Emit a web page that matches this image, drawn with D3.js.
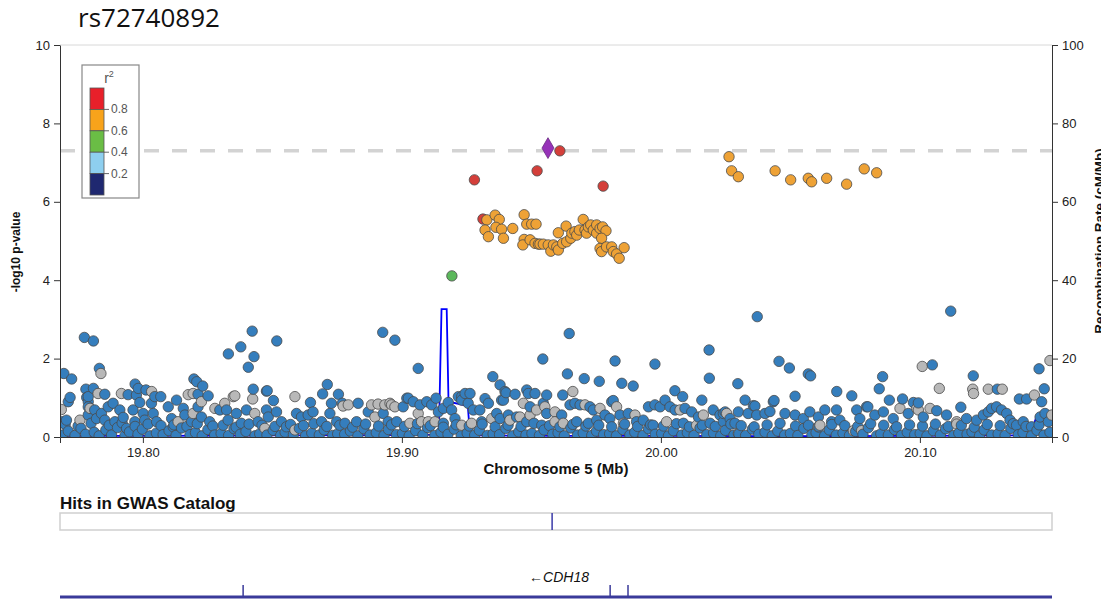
<!DOCTYPE html>
<html>
<head>
<meta charset="utf-8">
<script src="https://cdn.jsdelivr.net/npm/d3@7/dist/d3.min.js"></script>
<style>
  body { margin: 0; background: #fff; }
  svg { display: block; font-family: "Liberation Sans", Arial, sans-serif; }
</style>
</head>
<body>
<svg width="1101" height="615"></svg>
<script>
// ---- data (position in Mb, -log10 p) ----
const xTicks = [19.80, 19.90, 20.00, 20.10];
const yTicks = [0, 2, 4, 6, 8, 10];
const recombTicks = [0, 20, 40, 60, 80, 100];
const legendBreaks = [0.8, 0.6, 0.4, 0.2];
const legendColors = ["#e8202a", "#f8a31b", "#6abd45", "#8ecfef", "#1f2870"];

const indexSnp = [[19.9564, 7.37]];
const redSnps = [[19.9313, 5.56], [19.9280, 6.56], [19.9522, 6.79], [19.9610, 7.30], [19.9777, 6.40]];
const greenSnps = [[19.9193, 4.11]];
const orangeSnps = [
  [19.9328,5.54],[19.9360,5.66],[19.9376,5.55],[19.9321,5.28],[19.9334,5.11],[19.9363,5.35],[19.9385,5.30],
  [19.9392,5.07],[19.9428,5.32],[19.9472,5.67],[19.9482,5.43],[19.9501,5.43],[19.9518,5.43],[19.9472,5.04],
  [19.9467,4.90],[19.9495,5.03],[19.9514,4.94],[19.9527,4.92],[19.9533,4.92],[19.9546,4.92],[19.9565,4.90],
  [19.9575,4.74],[19.9585,4.90],[19.9598,4.85],[19.9604,4.77],[19.9604,5.21],[19.9634,5.38],[19.9621,4.94],
  [19.9636,4.98],[19.9652,5.07],[19.9656,5.20],[19.9668,5.24],[19.9675,5.15],[19.9685,5.28],[19.9700,5.55],
  [19.9707,5.28],[19.9713,5.20],[19.9720,5.36],[19.9729,5.41],[19.9739,5.28],[19.9752,5.20],[19.9752,5.41],
  [19.9765,5.32],[19.9775,5.36],[19.9788,5.26],[19.9771,5.07],[19.9765,4.81],[19.9771,4.73],[19.9790,4.85],
  [19.9810,4.85],[19.9816,4.73],[19.9829,4.67],[19.9839,4.56],[19.9858,4.83],
  [20.0263,7.15],[20.0273,6.79],[20.0299,6.64],[20.0441,6.79],[20.0501,6.56],[20.0569,6.60],[20.0582,6.51],
  [20.0640,6.60],[20.0717,6.45],[20.0785,6.84],[20.0833,6.74]
];

const greySnps = [
  [19.7685,0.70],[19.7757,0.43],[19.7796,0.73],[19.7827,1.11],[19.7838,1.62],[19.7917,1.11],[19.8034,1.16],
  [19.8136,0.39],[19.8175,1.08],[19.8194,1.11],[19.8194,0.60],[19.8226,0.90],[19.8278,0.73],[19.8316,0.86],
  [19.8349,1.03],[19.8355,1.05],[19.8424,0.97],[19.8432,0.60],[19.8471,0.22],[19.8587,1.03],[19.8587,0.18],
  [19.8773,0.79],[19.8793,0.82],[19.8883,0.82],[19.8896,0.51],[19.8908,0.84],[19.8934,0.82],[19.8960,0.82],
  [19.8954,0.86],[19.8973,0.77],[19.9031,0.35],[19.9063,0.60],[19.9076,0.39],[19.9102,0.39],[19.9128,0.39],
  [19.9231,0.30],[19.9269,0.35],[19.9347,0.47],[19.9417,0.43],[19.9456,0.51],[19.9469,0.86],[19.9495,0.56],
  [19.9520,0.69],[19.9552,0.77],[19.9591,0.64],[19.9591,0.39],[19.9623,0.35],[19.9660,1.16],[19.9707,0.82],
  [19.9765,0.73],[19.9829,0.77],[19.9855,0.35],[19.9900,0.56],[20.0022,0.39],[20.0074,0.69],[20.0138,0.30],
  [20.0164,0.56],[20.0254,0.60],[20.0299,0.09],[20.0607,0.26],[20.0614,0.30],[20.0743,0.16],[20.0775,0.16],
  [20.0923,0.73],[20.0988,0.73],[20.0994,0.69],[20.1009,1.80],[20.1039,0.73],[20.1075,1.24],[20.1142,0.39],
  [20.1142,0.33],[20.1204,1.22],[20.1207,1.11],[20.1264,1.22],[20.1318,1.22],[20.1442,1.07],[20.1502,1.95],
  [20.1509,0.56]
];

const blueSnps = [
  // upper scattered
  [19.7695,1.62],[19.7725,1.48],[19.7719,1.01],[19.7712,0.90],[19.7774,2.54],[19.7809,2.45],[19.7832,1.75],
  [19.7780,1.22],[19.7809,1.24],[19.7783,1.01],[19.7789,0.90],[19.8330,2.12],[19.8378,2.30],[19.8422,2.70],
  [19.8429,2.05],[19.8407,1.78],[19.8426,1.22],[19.8517,2.45],[19.8480,1.18],[19.8504,0.93],[19.8926,2.67],
  [19.8973,2.47],[19.8712,1.34],[19.8694,1.10],[19.8755,1.09],[19.8197,1.48],[19.8208,1.41],[19.8231,1.30],
  [19.7970,1.35],[19.7982,1.24],[19.8012,1.20],[19.9019,0.99],[19.9063,1.75],[19.9544,1.99],[19.9646,2.64],
  [19.9639,1.61],[19.9704,1.49],[19.9762,1.42],[19.9823,1.94],[19.9849,1.37],[19.9893,1.30],[19.9977,1.86],
  [20.0186,2.22],[20.0187,1.50],[20.0297,1.36],[20.0054,1.18],[20.0084,1.03],[20.0158,0.94],[19.9351,1.54],
  [19.9379,1.33],[19.9402,1.13],[19.9392,0.94],[19.9482,1.20],[19.9514,1.11],[19.9559,1.07],[19.9621,1.07],
  [19.9263,1.11],[19.9231,1.03],[19.9132,0.99],[19.9025,0.99],[19.9816,0.93],[20.0372,3.07],[20.1119,3.21],
  [20.0456,1.93],[20.0496,1.76],[20.0569,1.61],[20.0578,1.56],[20.0679,1.16],[20.0737,1.05],[20.0518,1.04],
  [20.0856,1.54],[20.0843,1.23],[20.1048,1.84],[20.1206,1.56],[20.1299,1.22],[20.1460,1.74],[20.1480,1.23],
  [20.1384,0.97],[20.1412,0.97],[20.0933,0.97],[20.0882,0.94],[20.0437,0.93],[20.0325,0.94],[20.0363,0.79],
  [20.0799,0.77],[20.1158,0.76],[20.0975,0.88],[20.1470,0.90],
  [19.7789,1.03],[19.7853,1.09],[19.7943,1.08],[19.7975,1.07],[19.8046,1.03],[19.8069,1.03],[19.8213,1.09],
  [19.8252,1.05],[19.8477,1.17],[19.8647,0.88],[19.8728,0.86],[19.8770,0.86],[19.8831,0.86],
  [19.9398,1.16],[19.9437,1.09],[19.9488,1.11],
  // middle band
  [19.7686,0.39],[19.7705,0.43],[19.7789,0.77],[19.7789,0.56],[19.7814,0.69],[19.7821,0.47],[19.7840,0.60],
  [19.7853,0.43],[19.7866,0.77],[19.7885,0.86],[19.7892,0.39],[19.7911,0.69],[19.7924,0.50],[19.7937,0.22],
  [19.7962,0.69],[19.7969,0.39],[19.7988,0.88],[19.8001,0.60],[19.8007,0.43],[19.8033,0.86],[19.8040,0.60],
  [19.8053,0.39],[19.8098,0.77],[19.8111,0.47],[19.8117,0.26],[19.8130,0.94],[19.8156,0.73],[19.8162,0.56],
  [19.8188,0.39],[19.8213,0.77],[19.8226,0.51],[19.8258,0.39],[19.8297,0.69],[19.8323,0.69],[19.8329,0.43],
  [19.8361,0.60],[19.8380,0.35],[19.8400,0.69],[19.8445,0.39],[19.8477,0.69],[19.8484,0.51],[19.8516,0.64],
  [19.8535,0.39],[19.8554,0.26],[19.8593,0.60],[19.8612,0.51],[19.8638,0.56],[19.8657,0.64],[19.8690,0.39],
  [19.8722,0.60],[19.8748,0.39],[19.8780,0.35],[19.8825,0.39],[19.8870,0.64],[19.8928,0.60],[19.8947,0.39],
  [19.9005,0.77],[19.9044,0.90],[19.9070,0.82],[19.9096,0.90],[19.9115,0.82],[19.9141,0.64],[19.9160,0.73],
  [19.9179,0.88],[19.9192,0.69],[19.9218,1.03],[19.9231,0.94],[19.9244,1.11],[19.9256,0.86],[19.9276,0.69],
  [19.9301,0.69],[19.9321,0.98],[19.9334,0.86],[19.9366,0.60],[19.9385,0.94],[19.9411,0.56],[19.9443,0.51],
  [19.9495,0.77],[19.9546,0.86],[19.9559,0.60],[19.9617,0.56],[19.9649,0.82],[19.9668,0.86],[19.9688,0.82],
  [19.9726,0.77],[19.9739,0.69],[19.9784,0.56],[19.9810,0.90],[19.9842,0.56],[19.9874,0.60],[19.9932,0.43],
  [19.9952,0.77],[19.9977,0.82],[19.9997,0.77],[20.0016,0.94],[20.0035,0.77],[20.0055,0.69],[20.0093,0.73],
  [20.0119,0.64],[20.0145,0.51],[20.0202,0.69],[20.0228,0.56],[20.0248,0.64],
  [19.8980,0.39],[19.9160,0.35],[19.9205,0.47],[19.9308,0.39],[19.9379,0.47],[19.9482,0.39],[19.9540,0.30],
  [19.9675,0.39],[19.9720,0.35],[19.9752,0.43],[19.9803,0.47],[19.9906,0.39],[19.9970,0.30],[20.0087,0.35],
  [20.0190,0.35],[20.0241,0.39],
  [20.0434,0.90],[20.0357,0.80],[20.0299,0.64],[20.0241,0.60],[20.0267,0.47],[20.0286,0.35],[20.0337,0.60],
  [20.0370,0.56],[20.0402,0.60],[20.0421,0.65],[20.0479,0.60],[20.0518,0.56],[20.0550,0.47],[20.0575,0.64],
  [20.0608,0.51],[20.0633,0.69],[20.0659,0.39],[20.0678,0.69],[20.0691,0.43],[20.0756,0.69],[20.0768,0.47],
  [20.0794,0.77],[20.0826,0.56],[20.0859,0.64],[20.0897,0.47],[20.0955,0.60],[20.0994,0.87],[20.1013,0.51],
  [20.1065,0.67],[20.1103,0.56],[20.1180,0.47],[20.1219,0.43],[20.1245,0.56],[20.1264,0.64],[20.1277,0.73],
  [20.1296,0.77],[20.1315,0.69],[20.1335,0.60],[20.1348,0.43],[20.1373,0.30],[20.1399,0.39],[20.1431,0.26],
  [20.1464,0.51],[20.1483,0.60],[20.1496,0.39],
  // lower band
  [19.770,0.32],[19.775,0.28],[19.780,0.35],[19.787,0.30],[19.792,0.36],[19.797,0.27],[19.802,0.33],
  [19.807,0.29],[19.812,0.31],[19.817,0.27],[19.821,0.34],[19.827,0.28],[19.831,0.30],[19.836,0.25],
  [19.841,0.33],[19.846,0.30],[19.851,0.27],[19.857,0.32],[19.862,0.29],[19.866,0.34],[19.871,0.27],
  [19.876,0.30],[19.881,0.25],[19.886,0.33],[19.891,0.28],[19.896,0.31],[19.901,0.27],[19.906,0.34],
  [19.911,0.29],[19.916,0.25],[19.921,0.31],[19.926,0.28],[19.931,0.33],[19.936,0.26],[19.941,0.30],
  [19.946,0.27],[19.951,0.35],[19.957,0.29],[19.961,0.26],[19.966,0.32],[19.971,0.28],[19.976,0.30],
  [19.981,0.26],[19.986,0.33],[19.991,0.27],[19.996,0.31],[20.001,0.28],[20.006,0.34],[20.011,0.26],
  [20.016,0.30],[20.021,0.27],[20.027,0.33],[20.031,0.29],[20.036,0.26],[20.041,0.31],[20.046,0.35],
  [20.052,0.28],[20.057,0.30],[20.061,0.26],[20.066,0.32],[20.071,0.29],[20.076,0.27],[20.081,0.34],
  [20.086,0.30],[20.091,0.26],[20.096,0.31],[20.101,0.28],[20.106,0.33],[20.111,0.27],[20.116,0.30],
  [20.121,0.25],[20.126,0.32],[20.131,0.29],[20.136,0.34],[20.141,0.27],[20.146,0.31],
  [19.7690,0.05],[19.7712,0.15],[19.7738,0.04],[19.7761,0.22],[19.7779,0.07],[19.7812,0.12],[19.7831,0.03],
  [19.7857,0.18],[19.7879,0.05],[19.7902,0.24],[19.7931,0.04],[19.7948,0.13],[19.7981,0.07],[19.7998,0.20],
  [19.8027,0.03],[19.8052,0.10],[19.8078,0.06],[19.8101,0.16],[19.8128,0.04],[19.8149,0.23],[19.8182,0.06],
  [19.8203,0.11],[19.8229,0.03],[19.8251,0.19],[19.8277,0.05],[19.8302,0.09],[19.8331,0.04],[19.8352,0.21],
  [19.8376,0.07],[19.8398,0.14],[19.8433,0.03],[19.8451,0.08],[19.8479,0.05],[19.8503,0.17],[19.8532,0.04],
  [19.8549,0.12],[19.8581,0.06],[19.8604,0.22],[19.8628,0.03],[19.8652,0.10],[19.8681,0.05],[19.8700,0.18],
  [19.8733,0.04],[19.8752,0.08],[19.8779,0.07],[19.8801,0.15],[19.8830,0.03],[19.8853,0.21],[19.8877,0.05],
  [19.8901,0.11],[19.8931,0.04],[19.8948,0.19],[19.8979,0.06],[19.9002,0.09],[19.9028,0.03],[19.9053,0.16],
  [19.9081,0.05],[19.9099,0.24],[19.9127,0.04],[19.9151,0.12],[19.9178,0.07],[19.9202,0.20],[19.9229,0.03],
  [19.9252,0.10],[19.9281,0.05],[19.9299,0.17],[19.9330,0.04],[19.9352,0.08],[19.9377,0.06],[19.9401,0.22],
  [19.9428,0.03],[19.9451,0.13],[19.9479,0.05],[19.9502,0.09],[19.9531,0.04],[19.9549,0.18],[19.9582,0.07],
  [19.9603,0.11],[19.9627,0.03],[19.9652,0.23],[19.9678,0.05],[19.9700,0.10],[19.9733,0.04],[19.9751,0.15],
  [19.9779,0.06],[19.9802,0.08],[19.9828,0.03],[19.9853,0.19],[19.9880,0.05],[19.9899,0.12],[19.9931,0.04],
  [19.9952,0.21],[19.9978,0.07],[20.0003,0.09],[20.0029,0.03],[20.0048,0.16],[20.0081,0.05],[20.0102,0.11],
  [20.0128,0.04],[20.0151,0.23],[20.0177,0.06],[20.0203,0.10],[20.0231,0.03],[20.0249,0.17],[20.0282,0.05],
  [20.0301,0.08],[20.0327,0.04],[20.0353,0.20],[20.0378,0.07],[20.0402,0.12],[20.0430,0.03],[20.0451,0.15],
  [20.0478,0.05],[20.0500,0.09],[20.0529,0.04],[20.0552,0.22],[20.0583,0.06],[20.0599,0.11],[20.0632,0.03],
  [20.0650,0.18],[20.0677,0.05],[20.0703,0.10],[20.0728,0.04],[20.0752,0.14],[20.0780,0.07],[20.0801,0.24],
  [20.0833,0.03],[20.0849,0.08],[20.0878,0.05],[20.0902,0.19],[20.0929,0.04],[20.0951,0.12],[20.0980,0.06],
  [20.1001,0.09],[20.1027,0.03],[20.1052,0.16],[20.1079,0.05],[20.1099,0.21],[20.1131,0.04],[20.1150,0.10],
  [20.1182,0.07],[20.1201,0.13],[20.1230,0.03],[20.1248,0.18],[20.1277,0.05],[20.1302,0.08],[20.1329,0.04],
  [20.1351,0.22],[20.1380,0.06],[20.1398,0.11],[20.1431,0.03],[20.1452,0.17],[20.1479,0.05],[20.1502,0.12]
];

// recombination rate (cM/Mb)
const recombRate = [
  [19.768,0.3],[19.800,0.3],[19.850,0.4],[19.900,0.5],[19.9138,0.6],[19.9143,1.5],[19.9153,32.6],
  [19.9173,32.6],[19.9180,9.0],[19.9250,8.0],[19.9255,7.5],[19.9263,0.4],[19.9600,0.3],[20.0000,0.3],
  [20.0500,0.2],[20.1000,0.3],[20.1425,0.4],[20.1448,4.8],[20.1468,0.6],[20.1510,0.5]
];

const gwasHits = [19.958];
const geneName = "CDH18";
const geneExons = [19.8387, 19.9804, 19.9873];

// ---- layout ----
const svg = d3.select("svg");
const plotLeft = 60, plotRight = 1052, plotTop = 45, plotBottom = 437;

const x = d3.scaleLinear().domain([19.768, 20.151]).range([plotLeft, plotRight]);
const y = d3.scaleLinear().domain([0, 10]).range([plotBottom, plotTop]);
const yR = d3.scaleLinear().domain([0, 100]).range([plotBottom, plotTop]);

svg.append("text")
    .attr("x", 78).attr("y", 27)
    .attr("font-family", "'Open Sans', sans-serif")
    .attr("font-size", "26px")
    .attr("fill", "#111")
    .text("rs72740892");

svg.append("defs").append("clipPath").attr("id", "plotclip")
  .append("rect").attr("x", plotLeft).attr("y", plotTop - 10)
  .attr("width", plotRight - plotLeft).attr("height", plotBottom - plotTop + 10);

// top border
svg.append("line")
    .attr("x1", plotLeft).attr("x2", plotRight).attr("y1", plotTop).attr("y2", plotTop)
    .attr("stroke", "#d8d8d8").attr("stroke-width", 1);

// significance line
svg.append("line")
    .attr("x1", plotLeft).attr("x2", plotRight)
    .attr("y1", y(7.3)).attr("y2", y(7.3))
    .attr("stroke", "#d3d3d3").attr("stroke-width", 3.5)
    .attr("stroke-dasharray", "15,13");

const plot = svg.append("g").attr("clip-path", "url(#plotclip)");

// recombination line
plot.append("path")
    .datum(recombRate)
    .attr("fill", "none")
    .attr("stroke", "#0000ff")
    .attr("stroke-width", 1.8)
    .attr("d", d3.line().x(d => x(d[0])).y(d => yR(d[1])));

// points: grey + blue mixed by position
const background = greySnps.map(d => ({ pos: d[0], p: d[1], c: "#b8b8b8" }))
    .concat(blueSnps.map(d => ({ pos: d[0], p: d[1], c: "#357ebd" })))
    .sort((a, b) => a.pos - b.pos);

plot.append("g").selectAll("circle")
    .data(background)
    .enter().append("circle")
    .attr("cx", d => x(d.pos))
    .attr("cy", d => y(d.p))
    .attr("r", 5.2)
    .attr("fill", d => d.c)
    .attr("stroke", "#4a4a4a")
    .attr("stroke-width", 0.8);

function drawSnps(data, color) {
    plot.append("g").selectAll("circle")
        .data(data)
        .enter().append("circle")
        .attr("cx", d => x(d[0]))
        .attr("cy", d => y(d[1]))
        .attr("r", 5.2)
        .attr("fill", color)
        .attr("stroke", "#4a4a4a")
        .attr("stroke-width", 0.8);
}
drawSnps(greenSnps, "#5cb85c");
drawSnps(redSnps, "#d43f3a");
drawSnps(orangeSnps, "#eea236");

plot.append("g").selectAll("path")
    .data(indexSnp)
    .enter().append("path")
    .attr("d", d3.symbol().type(d3.symbolDiamond).size(125))
    .attr("transform", d => `translate(${x(d[0])},${y(d[1])})`)
    .attr("fill", "#9632b8")
    .attr("stroke", "#6a2a80")
    .attr("stroke-width", 0.8);

// axes
function styleAxis(g, size) {
    g.selectAll("path, line").attr("stroke", "#333");
    g.selectAll("text").attr("fill", "#222").attr("font-size", size)
        .attr("font-family", "'Liberation Sans', Arial, sans-serif");
}

svg.append("g")
    .attr("transform", `translate(0,${plotBottom})`)
    .call(d3.axisBottom(x).tickValues(xTicks).tickFormat(d3.format(".2f")).tickSize(6).tickPadding(5))
    .call(g => styleAxis(g, "13px"));

svg.append("g")
    .attr("transform", `translate(${plotLeft},0)`)
    .call(d3.axisLeft(y).tickValues(yTicks).tickSize(6).tickSizeOuter(0).tickPadding(4))
    .call(g => styleAxis(g, "13px"));

svg.append("g")
    .attr("transform", `translate(${plotRight},0)`)
    .call(d3.axisRight(yR).tickValues(recombTicks).tickSize(6).tickSizeOuter(0).tickPadding(4))
    .call(g => styleAxis(g, "13px"));

svg.append("text")
    .attr("x", (plotLeft + plotRight) / 2).attr("y", 474)
    .attr("text-anchor", "middle")
    .attr("font-size", "15px").attr("font-weight", "bold")
    .attr("fill", "#111")
    .text("Chromosome 5 (Mb)");

svg.append("text")
    .attr("transform", "translate(20,252) rotate(-90)")
    .attr("text-anchor", "middle")
    .attr("font-size", "12px").attr("font-weight", "bold")
    .attr("fill", "#111")
    .text("-log10 p-value");

// right axis title, partly outside the frame as in the source picture
svg.append("text")
    .attr("transform", `translate(1104,${(plotTop + plotBottom) / 2}) rotate(-90)`)
    .attr("text-anchor", "middle")
    .attr("font-size", "13.5px").attr("font-weight", "bold")
    .attr("fill", "#111")
    .text("Recombination Rate (cM/Mb)");

// legend
const legend = svg.append("g").attr("transform", "translate(82,65)");
legend.append("rect")
    .attr("width", 57).attr("height", 133)
    .attr("fill", "#fff").attr("stroke", "#888").attr("stroke-width", 1.2);
legend.append("text")
    .attr("x", 27).attr("y", 18)
    .attr("text-anchor", "middle")
    .attr("font-size", "14px").attr("fill", "#555")
    .text("r").append("tspan").attr("dy", -6).attr("font-size", "9px").text("2");
const cellH = 21.4;
legend.selectAll("rect.cell")
    .data(legendColors)
    .enter().append("rect")
    .attr("class", "cell")
    .attr("x", 8).attr("y", (d, i) => 23 + i * cellH)
    .attr("width", 14).attr("height", cellH)
    .attr("fill", d => d)
    .attr("stroke", "#555").attr("stroke-width", 0.8);
legend.selectAll("line.tick")
    .data(legendBreaks)
    .enter().append("line")
    .attr("class", "tick")
    .attr("x1", 22).attr("x2", 27)
    .attr("y1", (d, i) => 23 + (i + 1) * cellH).attr("y2", (d, i) => 23 + (i + 1) * cellH)
    .attr("stroke", "#666");
legend.selectAll("text.lab")
    .data(legendBreaks)
    .enter().append("text")
    .attr("class", "lab")
    .attr("x", 29).attr("y", (d, i) => 23 + (i + 1) * cellH + 4)
    .attr("font-size", "12px").attr("fill", "#555")
    .text(d => d.toFixed(1));

// GWAS catalog track
svg.append("text")
    .attr("x", plotLeft).attr("y", 509)
    .attr("font-size", "17px").attr("font-weight", "bold")
    .attr("fill", "#111")
    .text("Hits in GWAS Catalog");
svg.append("rect")
    .attr("x", plotLeft).attr("y", 513)
    .attr("width", plotRight - plotLeft).attr("height", 17)
    .attr("fill", "none").attr("stroke", "#cfcfcf").attr("stroke-width", 1.5);
svg.selectAll("line.hit")
    .data(gwasHits)
    .enter().append("line")
    .attr("class", "hit")
    .attr("x1", d => x(d)).attr("x2", d => x(d))
    .attr("y1", 513).attr("y2", 530)
    .attr("stroke", "#3a3aa8").attr("stroke-width", 1.5);

// gene track
svg.append("line")
    .attr("x1", plotLeft).attr("x2", plotRight).attr("y1", 597).attr("y2", 597)
    .attr("stroke", "#3a3a9a").attr("stroke-width", 3);
svg.selectAll("line.exon")
    .data(geneExons)
    .enter().append("line")
    .attr("class", "exon")
    .attr("x1", d => x(d)).attr("x2", d => x(d))
    .attr("y1", 585).attr("y2", 598)
    .attr("stroke", "#3a3a9a").attr("stroke-width", 1.5);
svg.append("text")
    .attr("x", 559).attr("y", 582)
    .attr("text-anchor", "middle")
    .attr("font-size", "14px").attr("font-style", "italic")
    .attr("fill", "#111")
    .text("\u2190" + geneName);
</script>
</body>
</html>
